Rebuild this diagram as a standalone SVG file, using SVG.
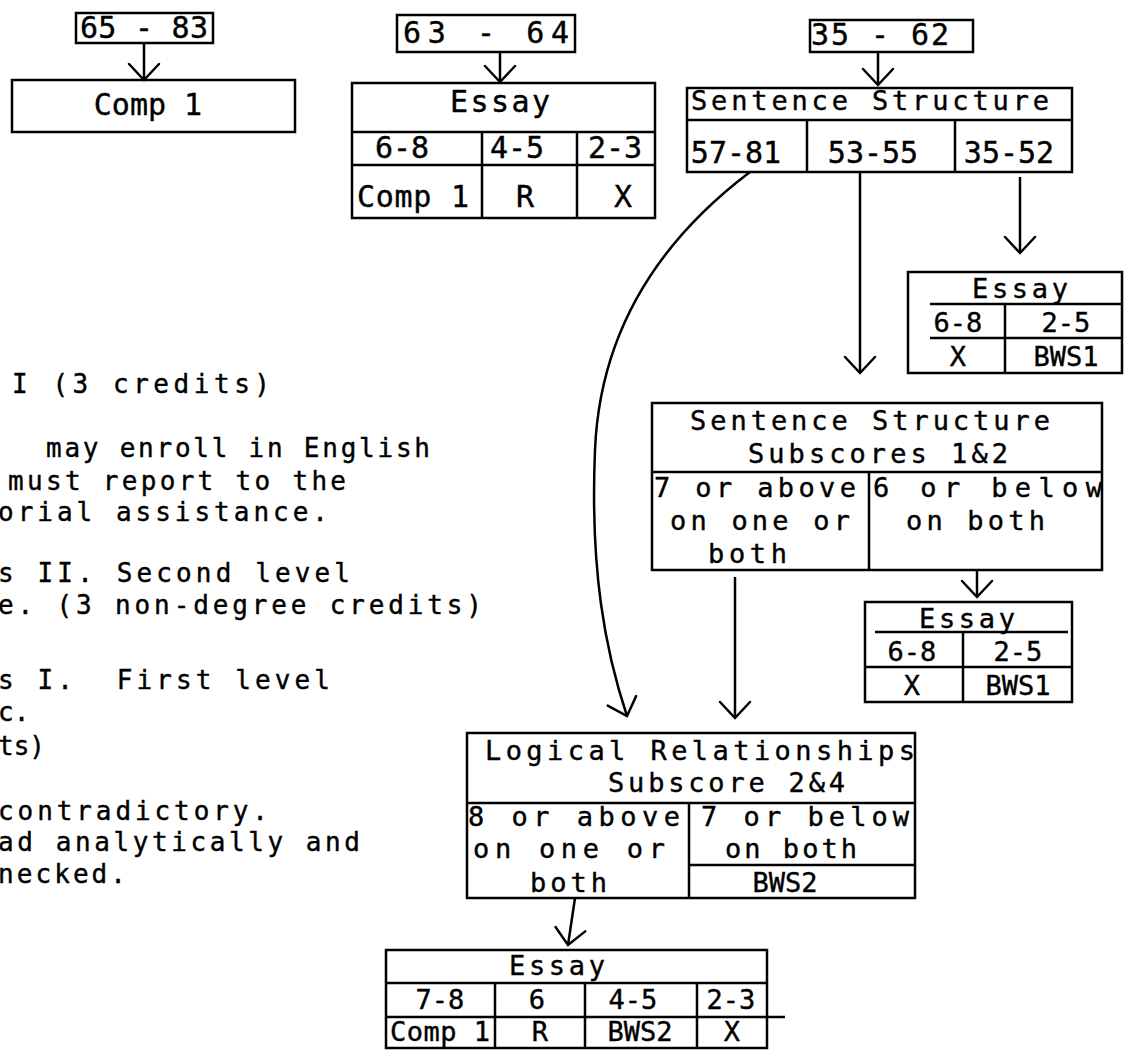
<svg xmlns="http://www.w3.org/2000/svg" width="1125" height="1051" viewBox="0 0 1125 1051">
<style>
.t { font-family: "DejaVu Sans Mono", "Liberation Mono", monospace; font-size: 30px; fill: #000; stroke: #000; stroke-width: 0.4; }
.n { font-size: 26px; }
.m { font-size: 27px; }
.s { font-size: 27px; }
.c { text-anchor: middle; }
.b { fill: none; stroke: #000; stroke-width: 2.5; }
</style>
<defs>
<marker id="v" viewBox="0 0 24 36" refX="21" refY="18" markerWidth="24" markerHeight="36" markerUnits="userSpaceOnUse" orient="auto" overflow="visible">
<path d="M5,3 L21,18 L5,33" fill="none" stroke="#000" stroke-width="2.5" stroke-linecap="round"/>
</marker>
</defs>
<rect width="1125" height="1051" fill="#fff"/>

<g id="notes">
<text class="t n" x="12" y="393" textLength="258">I (3 credits)</text>
<text class="t n" x="46" y="457" textLength="384">may enroll in English</text>
<text class="t n" x="8" y="490" textLength="338">must report to the</text>
<text class="t n" x="-2" y="521" textLength="330">orial assistance.</text>
<text class="t n" x="-2" y="582" textLength="352">s II. Second level</text>
<text class="t n" x="-2" y="614" textLength="484">e. (3 non-degree credits)</text>
<text class="t n" x="-2" y="689" textLength="332" xml:space="preserve">s I.  First level</text>
<text class="t n" x="-2" y="721">c.</text>
<text class="t n" x="-2" y="755">ts)</text>
<text class="t n" x="-2" y="820" textLength="270">contradictory.</text>
<text class="t n" x="-2" y="851" textLength="362">ad analytically and</text>
<text class="t n" x="-2" y="883" textLength="128">necked.</text>
</g>

<g id="connectors">
<path class="b" d="M144,43 V80" marker-end="url(#v)"/>
<path class="b" d="M500,52 V82" marker-end="url(#v)"/>
<path class="b" d="M878,52 V85" marker-end="url(#v)"/>
<path class="b" d="M750,172 C660,240 600,330 595,450 S605,650 627,716" marker-end="url(#v)"/>
<path class="b" d="M860,173 V373" marker-end="url(#v)"/>
<path class="b" d="M1020,177 V253" marker-end="url(#v)"/>
<path class="b" d="M977,570 V597" marker-end="url(#v)"/>
<path class="b" d="M735,577 V718" marker-end="url(#v)"/>
<path class="b" d="M575,898 L568,945" marker-end="url(#v)"/>
</g>

<g id="range-65-83">
<rect class="b" x="76" y="13" width="137" height="30"/>
<text class="t c" x="144" y="38" textLength="128">65 - 83</text>
</g>

<g id="comp1">
<rect class="b" x="12" y="80" width="283" height="52"/>
<text class="t c" x="148" y="115">Comp 1</text>
</g>

<g id="range-63-64">
<rect class="b" x="397" y="15" width="178" height="37"/>
<text class="t c" x="486" y="43" textLength="166">63 - 64</text>
</g>

<g id="essay-a">
<rect class="b" x="352" y="83" width="303" height="135"/>
<path class="b" d="M352,132 H655 M352,165 H655 M482,132 V218 M577,132 V218"/>
<text class="t c" x="500" y="112" textLength="100">Essay</text>
<text class="t c" x="402" y="158">6-8</text>
<text class="t c" x="517" y="158">4-5</text>
<text class="t c" x="615" y="158">2-3</text>
<text class="t c" x="413" y="207" textLength="112">Comp 1</text>
<text class="t c" x="525" y="207">R</text>
<text class="t c" x="623" y="207">X</text>
</g>

<g id="range-35-62">
<rect class="b" x="810" y="20" width="163" height="32"/>
<text class="t c" x="880" y="45" textLength="138">35 - 62</text>
</g>

<g id="sentence-structure">
<rect class="b" x="687" y="88" width="385" height="84"/>
<path class="b" d="M687,120 H1072 M807,120 V172 M955,120 V172"/>
<text class="t m" x="691" y="110" textLength="358">Sentence Structure</text>
<text class="t c" x="736" y="163">57-81</text>
<text class="t c" x="873" y="163">53-55</text>
<text class="t c" x="1009" y="163">35-52</text>
</g>

<g id="essay-b">
<rect class="b" x="908" y="272" width="214" height="101"/>
<path class="b" d="M930,304 H1122 M930,338 H1122 M1005,304 V373"/>
<text class="t s c" x="1020" y="298" textLength="96">Essay</text>
<text class="t s c" x="958" y="332">6-8</text>
<text class="t s c" x="1066" y="332">2-5</text>
<text class="t s c" x="958" y="366">X</text>
<text class="t s c" x="1066" y="366">BWS1</text>
</g>

<g id="subscores-1-2">
<rect class="b" x="652" y="403" width="450" height="167"/>
<path class="b" d="M652,472 H1102 M869,472 V570"/>
<text class="t m" x="690" y="430" textLength="360">Sentence Structure</text>
<text class="t m" x="748" y="463" textLength="260">Subscores 1&amp;2</text>
<text class="t m" x="654" y="497" textLength="202">7 or above</text>
<text class="t m" x="873" y="497" textLength="229">6 or below</text>
<text class="t m" x="670" y="530" textLength="180">on one or</text>
<text class="t m" x="906" y="530" textLength="139">on both</text>
<text class="t m" x="708" y="563" textLength="79">both</text>
</g>

<g id="essay-c">
<rect class="b" x="865" y="602" width="207" height="100"/>
<path class="b" d="M875,632 H1068 M865,667 H1072 M963,632 V702"/>
<text class="t s c" x="967" y="628" textLength="96">Essay</text>
<text class="t s c" x="912" y="661">6-8</text>
<text class="t s c" x="1018" y="661">2-5</text>
<text class="t s c" x="912" y="695">X</text>
<text class="t s c" x="1018" y="695">BWS1</text>
</g>

<g id="logical-relationships">
<rect class="b" x="467" y="733" width="448" height="165"/>
<path class="b" d="M467,803 H915 M689,803 V898 M689,865 H915"/>
<text class="t m" x="485" y="760" textLength="430">Logical Relationships</text>
<text class="t m" x="608" y="792" textLength="237">Subscore 2&amp;4</text>
<text class="t m" x="468" y="826" textLength="212">8 or above</text>
<text class="t m" x="701" y="826" textLength="208">7 or below</text>
<text class="t m" x="473" y="858" textLength="192">on one or</text>
<text class="t m" x="725" y="858" textLength="132">on both</text>
<text class="t m" x="530" y="892" textLength="77">both</text>
<text class="t s c" x="785" y="892">BWS2</text>
</g>

<g id="essay-d">
<rect class="b" x="386" y="950" width="381" height="98"/>
<path class="b" d="M386,983 H767 M386,1017 H785 M495,983 V1048 M585,983 V1048 M697,983 V1048"/>
<text class="t s c" x="557" y="975" textLength="96">Essay</text>
<text class="t s c" x="440" y="1009">7-8</text>
<text class="t s c" x="537" y="1009">6</text>
<text class="t s c" x="633" y="1009">4-5</text>
<text class="t s c" x="731" y="1009">2-3</text>
<text class="t s c" x="440" y="1041" textLength="100">Comp 1</text>
<text class="t s c" x="540" y="1041">R</text>
<text class="t s c" x="640" y="1041">BWS2</text>
<text class="t s c" x="732" y="1041">X</text>
</g>
</svg>
